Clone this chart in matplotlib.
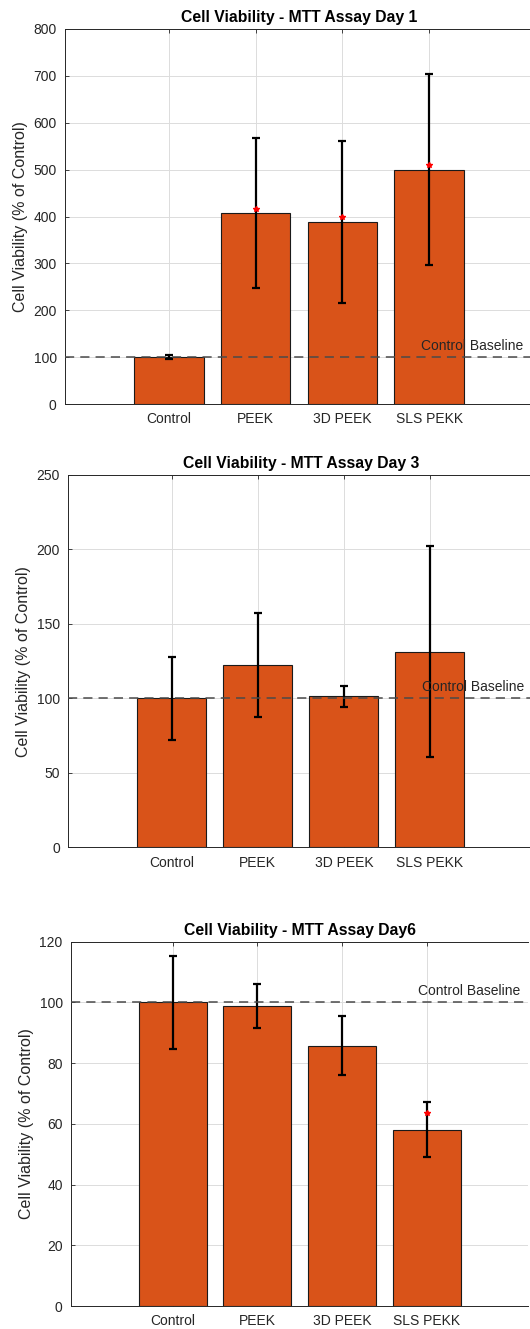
import numpy as np
import matplotlib
matplotlib.use("Agg")
import matplotlib.pyplot as plt

plt.rcParams["font.family"] = ["Liberation Sans", "DejaVu Sans"]

# ---- data (mean % of control, SD) ----
groups = ["Control", "PEEK", "3D PEEK", "SLS PEKK"]

day1_mean = [100, 407, 388, 500]
day1_sd = [4, 160, 173, 204]
day1_star = [np.nan, 417, 398, 509]

day3_mean = [100, 122.6, 101.4, 131.4]
day3_sd = [27.7, 35, 7, 70.7]
day3_star = [np.nan, np.nan, np.nan, np.nan]

day6_mean = [100, 98.8, 85.8, 58.1]
day6_sd = [15.3, 7.3, 9.6, 9.0]
day6_star = [np.nan, np.nan, np.nan, 63.5]

titles = ["Cell Viability - MTT Assay Day 1",
          "Cell Viability - MTT Assay Day 3",
          "Cell Viability - MTT Assay Day6"]
ylims = [800, 250, 120]
ysteps = [100, 50, 20]
baseline = 100

BAR = "#D95319"
INK = "#262626"

W, H = 530, 1329
fig = plt.figure(figsize=(W / 100, H / 100), dpi=100)

# axes boxes in pixels: left, top, bottom, category spacing
boxes = [(65, 29, 404, 86.7),
         (68.3, 475, 847.3, 86.1),
         (71, 941.7, 1306, 84.7)]

panels = [(day1_mean, day1_sd, day1_star),
          (day3_mean, day3_sd, day3_star),
          (day6_mean, day6_sd, day6_star)]

x = np.arange(1, len(groups) + 1)
for (left, top, bot, step), (mean, sd, star), title, ymax, ystep in zip(
        boxes, panels, titles, ylims, ysteps):
    width = 5.4 * step
    ax = fig.add_axes([left / W, (H - bot) / H, width / W, (bot - top) / H])
    ax.set_axisbelow(True)
    ax.grid(True, color="#dcdcdc", lw=0.7)
    ax.bar(x, mean, width=0.8, color=BAR, edgecolor="#1a1a1a", lw=0.8, zorder=2)
    ax.errorbar(x, mean, yerr=sd, fmt="none", ecolor="black", elinewidth=1.6,
                capsize=3.2, capthick=1.6, zorder=3)
    ax.plot(x, star, ls="none", marker="*", ms=4, color="red", zorder=4)
    ax.axhline(baseline, ls=(0, (6, 4)), color="#4a4a4a", lw=1.1, zorder=5)
    ax.annotate("Control Baseline", xy=(4.5, baseline), xytext=(0, 3),
                textcoords="offset points", ha="center", va="bottom",
                fontsize=10, color=INK, zorder=6)

    ax.set_xlim(-0.2, 5.2)
    ax.set_ylim(0, ymax)
    ax.set_xticks(x)
    ax.set_xticklabels(groups)
    ax.set_yticks(np.arange(0, ymax + 1, ystep))
    ax.tick_params(direction="in", length=3, width=0.6, colors=INK,
                   labelsize=10, top=True, pad=6)
    for s in ax.spines.values():
        s.set_color(INK)
        s.set_linewidth(0.7)
    ax.spines["right"].set_visible(False)
    ax.set_ylabel("Cell Viability (% of Control)", fontsize=11.5, color=INK)
    ax.set_title(title, fontsize=11.3, fontweight="bold", color="black", pad=5)

fig.savefig("out.png", dpi=100)
